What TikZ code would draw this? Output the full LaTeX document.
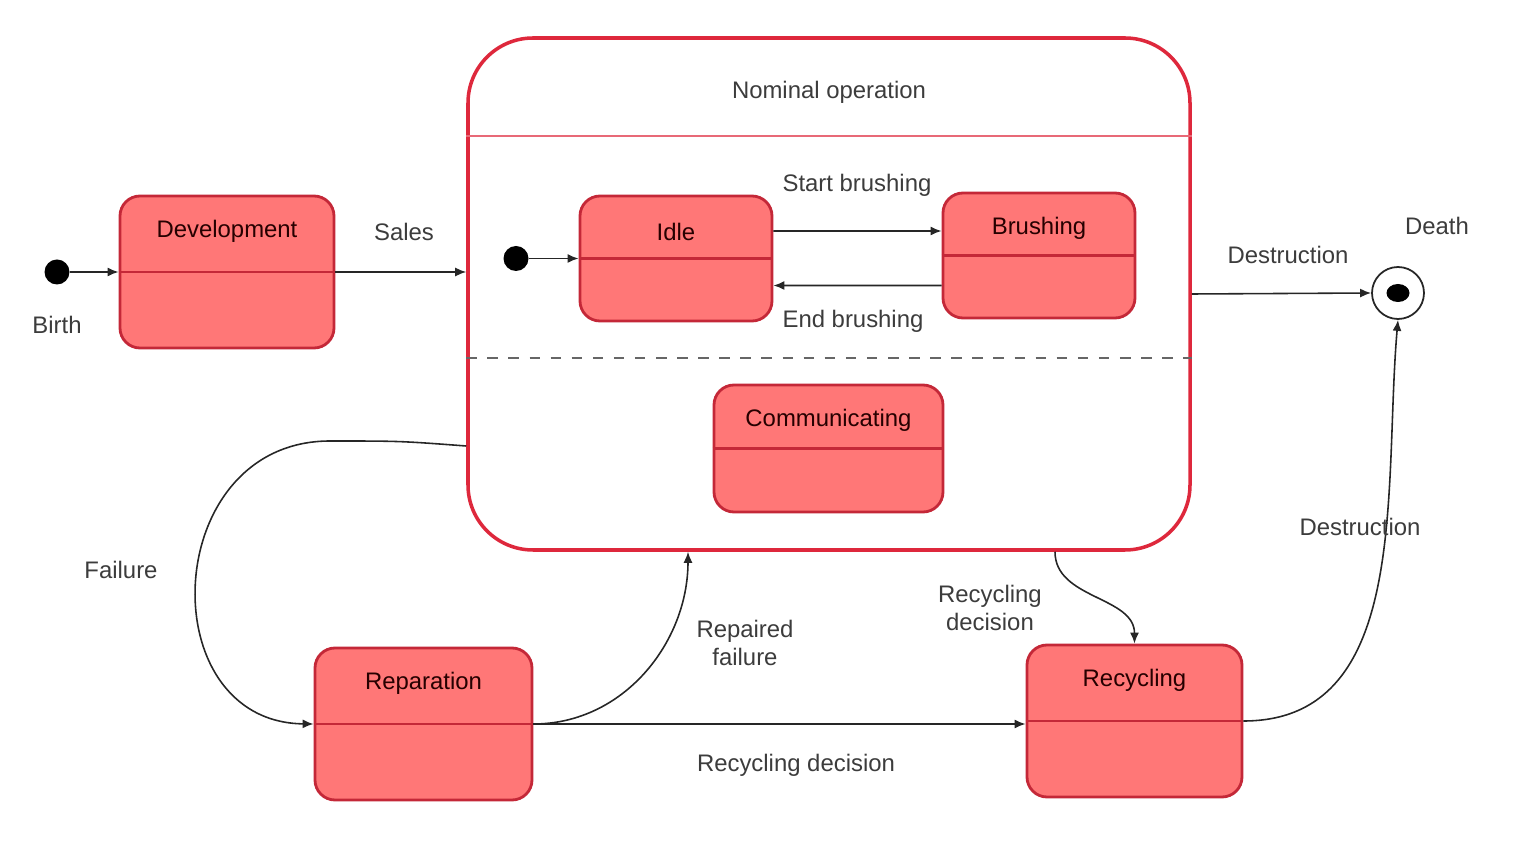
\documentclass[tikz,border=0pt]{standalone}
\usepackage{fontspec}
\setmainfont{Liberation Sans}
\usetikzlibrary{arrows.meta,calc}
\definecolor{statefill}{RGB}{255,119,119}
\definecolor{stateedge}{RGB}{196,40,56}
\definecolor{boxedge}{RGB}{222,40,60}
\definecolor{labelgray}{RGB}{60,60,60}
\begin{document}
\begin{tikzpicture}[
    arrow/.style={-{Latex[length=1.1mm,width=0.9mm]}, black!85, line width=0.45pt},
    statebox/.style={rectangle, rounded corners=0.2cm, draw=stateedge, line width=0.8pt,
        fill=statefill, label={[statename]north:#1}},
    statename/.style={anchor=center, yshift=-0.37cm, text=black!85!red},
    divider/.style={stateedge, line width=0.6pt},
    initdot/.style={circle, fill=black, inner sep=0pt, minimum size=0.25cm},
    every node/.style={align=center, font=\fontsize{6.8}{8.2}\selectfont, text=labelgray}
]
\useasboundingbox (0,0) rectangle (15.32,-8.52);

% Composite state
\node (nominal) [rectangle, rounded corners=0.65cm, draw=boxedge, line width=1pt,
    minimum width=7.22cm, minimum height=5.12cm] at (8.29,-2.94) {};
\node (nomtitle) at (8.29,-0.92) {Nominal operation};
\draw [boxedge!70, line width=0.6pt] ($(nominal.north west)+(0,-1)$) -- ($(nominal.north east)+(0,-1)$);
\draw [dashed, black!60, line width=0.5pt] ($(nominal.north west)+(0,-3.22)$) -- ($(nominal.north east)+(0,-3.22)$);

% Nodes
\node (birth) [initdot] at (0.57,-2.72) {};
\node (dev) [statebox=Development, minimum width=2.14cm, minimum height=1.52cm] at (2.27,-2.72) {};
\node (start) [initdot] at (5.16,-2.585) {};
\node (idle) [statebox=Idle, minimum width=1.92cm, minimum height=1.25cm] at (6.76,-2.585) {};
\node (brush) [statebox=Brushing, minimum width=1.92cm, minimum height=1.25cm] at (10.39,-2.555) {};
\node (comm) [statebox=Communicating, minimum width=2.29cm, minimum height=1.27cm] at (8.285,-4.485) {};
\node (rep) [statebox=Reparation, minimum width=2.17cm, minimum height=1.52cm] at (4.235,-7.24) {};
\node (recyc) [statebox=Recycling, minimum width=2.15cm, minimum height=1.52cm] at (11.345,-7.21) {};
\node (death) [circle, draw=black!85, fill=white, line width=0.5pt, minimum size=0.52cm, inner sep=0pt] at (13.98,-2.93) {};
\fill [black] (death) ellipse (0.115 and 0.09);

% Dividers
\foreach \s in {dev, idle, brush, comm, rep, recyc}
    \draw [divider] (\s.west) -- (\s.east);

% Labels
\node (birthlbl) at (0.57,-3.25) {Birth};
\node (deathlbl) at (14.37,-2.26) {Death};
\node (saleslbl) at (4.04,-2.32) {Sales};
\node (startlbl) at (8.57,-1.85) {Start brushing};
\node (endlbl) at (8.53,-3.21) {End brushing};
\node (destrlbl) at (12.88,-2.55) {Destruction};
\node (faillbl) at (1.21,-5.70) {Failure};
\node (repairlbl) at (7.45,-6.43) {Repaired\\failure};
\node (recyclbl) at (7.96,-7.65) {Recycling decision};
\node (decidelbl) at (9.90,-6.08) {Recycling\\decision};

% Arrows
\draw [arrow] (birth) -- (dev.west);
\draw [arrow] (dev.east) -- (dev.east -| nominal.west);
\draw [arrow] (start) -- (idle.west);
\draw [arrow] ([yshift=2.75mm]idle.east) -- ([yshift=2.45mm]brush.west);
\draw [arrow] ([yshift=-3mm]brush.west) -- ([yshift=-2.7mm]idle.east);
\draw [arrow] (nominal.east) -- (death.west);
\draw [arrow] ($(nominal.west)+(0,-1.52)$) .. controls (4.0,-4.41) .. (3.3,-4.41)
    .. controls (1.6,-4.41) and (1.5,-7.22) .. (rep.west);
\draw [arrow] (rep.east) to[out=0, in=-90] ($(nominal.south)+(-1.41,0)$);
\draw [arrow] (rep.east) -- (rep.east -| recyc.west);
\draw [arrow] ($(nominal.south)+(2.26,0)$) to[out=-90, in=90] (recyc.north);
\draw [arrow] (recyc.east) to[out=0, in=-95] (death.south);
\node (destr2lbl) at (13.60,-5.27) {Destruction};

\end{tikzpicture}
\end{document}
